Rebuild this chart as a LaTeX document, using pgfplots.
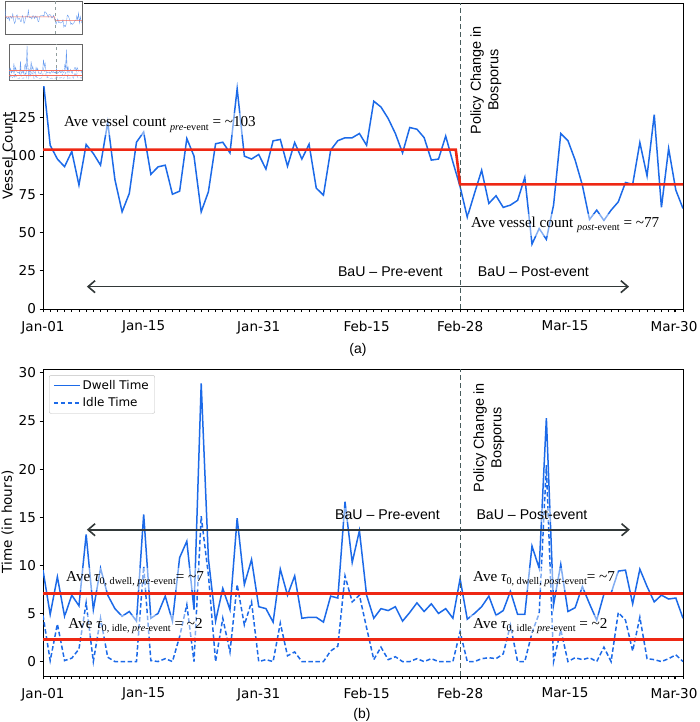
\documentclass[border=0pt]{standalone}
\usepackage{fontspec}
\setmainfont{DejaVu Sans}
\newfontfamily\annfont{Liberation Sans}
\newfontfamily\timesfont{Liberation Serif}
\usepackage{pgfplots}
\usepackage{pgfplotstable}
\pgfplotsset{compat=1.18}
\usetikzlibrary{arrows.meta}

\definecolor{lineblue}{RGB}{28,106,232}
\definecolor{avgred}{RGB}{238,40,20}
\definecolor{eventgray}{RGB}{72,92,92}
\definecolor{arrowgray}{RGB}{50,56,56}

% daily series, day 0 = Jan-01
\pgfplotstableread{
day vessel dwell idle
0 151 9.5 4.8
1 107 4.9 0.1
2 98 8.8 3.9
3 93 4.7 0.1
4 103 6.9 0.35
5 81 5.8 1.3
6 107.5 13.2 6.1
7 101.6 5.4 0
8 94 9.7 4.5
9 122 6.9 0.45
10 84.6 5.5 0
11 63.5 4.7 0
12 75.5 5.2 0
13 109 4.2 0
14 115.7 15.3 9.9
15 88 4.5 0.1
16 92.9 5.0 0
17 94 6.8 0.3
18 75 4.2 0
19 77 10.8 2.6
20 111.4 12.5 5.9
21 99.9 5.4 0
22 63.5 28.9 15.1
23 76.6 10.7 9.0
24 108 4.2 0
25 109 7.6 4.5
26 102 5.4 1.0
27 144 14.9 8.0
28 99.9 8.0 3.8
29 98 10.6 6.2
30 101 5.7 0
31 91.4 5.5 0.2
32 109.9 4.1 0
33 110.8 9.6 4.0
34 93.3 6.9 0.6
35 108.8 8.9 1.0
36 98 4.5 0
37 107.7 4.6 0
38 79 4.6 0
39 74.4 4.1 0
40 103.8 6.8 1.1
41 110 6.6 1.6
42 111.9 16.6 8.9
43 111.9 10.3 6.2
44 114.7 13.6 6.9
45 107 6.9 3.5
46 135.8 4.5 0.2
47 132 5.5 1.5
48 124.5 5.3 0.2
49 114.7 5.7 0.5
50 102 4.2 0
51 118.6 5.1 0
52 117.5 6.1 0.3
53 112 5.2 0
54 97.3 6.0 0.3
55 98 5.0 0
56 113 5.5 0
57 96 4.5 0
58 80 8.6 3.1
59 60 4.4 0
60 75.5 5.0 0
61 90.7 5.7 0.3
62 69 6.8 0.4
63 74 4.8 0.3
64 66.4 5.3 0.8
65 67.9 7.3 3.8
66 71 4.9 0
67 86 4.9 0
68 42.4 12.0 3.0
69 52.6 9.7 5.0
70 45.5 25.3 20.4
71 67.9 5.9 0
72 114.7 10.1 3.3
73 110 5.2 0
74 97.3 5.6 0.4
75 81 7.8 0.2
76 58.5 6.0 0.4
77 64.6 4.3 0
78 57.9 7.0 1.5
79 64.6 7.1 0
80 70 9.4 5.1
81 82.7 9.5 4.3
82 81.4 6.0 1.1
83 108.8 9.6 4.6
84 87 7.8 0.3
85 127 6.2 0.2
86 66.4 6.9 0
87 104.9 6.5 0.3
88 77.7 6.6 0.7
89 65.7 4.5 0
}\traffic

\pgfplotsset{
  panel/.style={
    scale only axis, width=640bp,
    xmin=0, xmax=89,
    axis line style={black, line width=0.8bp},
    tick style={black, line width=0.8bp},
    tick align=outside, xtick pos=bottom, ytick pos=left,
    major tick length=3.5bp, minor tick length=3bp,
    xtick={0,14,30,45,58,72.6,87.75},
    xticklabels={Jan-01,Jan-15,Jan-31,Feb-15,Feb-28,Mar-15,Mar-30},
    minor xtick={0,1,...,89},
    ticklabel style={font=\fontsize{13.6}{16}\selectfont},
    xticklabel style={yshift=-5bp},
    /pgf/number format/assume math mode=true,
    clip=true,
  },
}
\tikzset{
  boxnote/.style={fill=white, fill opacity=0.45, text opacity=1, inner xsep=3bp, inner ysep=3bp},
  ave/.style={boxnote, anchor=base west, font=\timesfont\fontsize{15.2}{17}\selectfont},
  bau/.style={boxnote, font=\annfont\fontsize{14.2}{16}\selectfont, inner sep=2bp},
  policy/.style={rotate=90, align=center, font=\annfont\fontsize{14.5}{17.5}\selectfont},
  span/.style={arrowgray, line width=1.6bp, {Straight Barb[length=7bp,width=12bp]}-{Straight Barb[length=7bp,width=12bp]}},
}
\newcommand{\sub}[1]{\raisebox{-0.45ex}{\fontsize{10.2}{12}\selectfont #1}}

\begin{document}
\begin{tikzpicture}[x=1bp,y=1bp]
\path[use as bounding box] (0,0) rectangle (700,722);

% (a) vessel counts
\begin{axis}[panel, at={(43bp,413bp)}, anchor=south west, height=306bp,
  ymin=0, ymax=200, ytick={0,25,...,125}]
\addplot[lineblue, line width=1.5bp] table[x=day, y=vessel] {\traffic};
\addplot[eventgray, line width=1.1bp, dash pattern=on 5bp off 3bp] coordinates {(58,0) (58,200)};
\addplot[avgred, line width=2.6bp] coordinates {(0,104.2) (57.4,104.2) (58,81.4) (89,81.4)};
\node[ave, xshift=-3bp] at (axis cs:2.9,119) {Ave vessel count \sub{\textit{pre}-event} = \textasciitilde103};
\node[ave, xshift=-3bp] at (axis cs:59.5,53.1) {Ave vessel count \sub{\textit{post}-event} = \textasciitilde77};
\draw[span] (axis cs:6.1,14.6) -- (axis cs:81.5,14.6);
\node[bau] at (axis cs:48.3,24.4) {BaU – Pre-event};
\node[bau] at (axis cs:68.2,24.4) {BaU – Post-event};
\node[policy] at (axis cs:61.6,149.5) {Policy Change in\\Bosporus};
\end{axis}

% (b) dwell and idle times
\begin{axis}[panel, at={(43bp,46bp)}, anchor=south west, height=307bp,
  ymin=-1.5, ymax=30.4, ytick={0,5,...,30},
  legend style={at={(0.0094,0.98)}, anchor=north west, draw=black!25, rounded corners=2bp,
    fill=white, fill opacity=0.8, text opacity=1,
    font=\fontsize{12}{14}\selectfont, row sep=3bp, inner xsep=4bp, inner ysep=3bp},
  legend cell align=left,
  legend image code/.code={\draw[#1] (0bp,0bp) -- (26bp,0bp);}]
\addplot[lineblue, line width=1.5bp] table[x=day, y=dwell] {\traffic};
\addlegendentry{Dwell Time}
\addplot[lineblue, line width=1.5bp, dash pattern=on 4.5bp off 2.5bp] table[x=day, y=idle] {\traffic};
\addlegendentry{Idle Time}
\addplot[eventgray, line width=1.1bp, dash pattern=on 5bp off 3bp, forget plot] coordinates {(58,-1.5) (58,30.4)};
\addplot[avgred, line width=2.6bp, forget plot] coordinates {(0,7.1) (89,7.1)};
\addplot[avgred, line width=2.6bp, forget plot] coordinates {(0,2.3) (89,2.3)};
\node[ave, xshift=-3bp] at (axis cs:3.2,8.32) {Ave {\itshape τ}\sub{0, dwell, \textit{pre}-event}= \textasciitilde7};
\node[ave, xshift=-3bp] at (axis cs:3.5,3.47) {Ave {\itshape τ}\sub{0, idle, \textit{pre}-event} = \textasciitilde2};
\node[ave, xshift=-3bp] at (axis cs:59.8,8.32) {Ave {\itshape τ}\sub{0, dwell, \textit{post}-event}= \textasciitilde7};
\node[ave, xshift=-3bp] at (axis cs:59.8,3.47) {Ave {\itshape τ}\sub{0, idle, \textit{pre}-event} = \textasciitilde2};
\draw[span] (axis cs:6.1,13.7) -- (axis cs:81.6,13.7);
\node[bau] at (axis cs:47.9,15.25) {BaU – Pre-event};
\node[bau] at (axis cs:68,15.25) {BaU – Post-event};
\node[policy] at (axis cs:62,23.25) {Policy Change in\\Bosporus};
\end{axis}

% axis titles and panel captions
\node[rotate=90, font=\fontsize{13.6}{16}\selectfont] at (7.5,566) {Vessel Count};
\node[rotate=90, font=\fontsize{13.6}{16}\selectfont] at (7.5,200) {Time (in hours)};
\node[font=\annfont\fontsize{14}{16}\selectfont] at (358,372) {(a)};
\node[font=\annfont\fontsize{14}{16}\selectfont] at (362,7) {(b)};

% miniature of the whole figure in the top-left corner
\fill[white] (0,636) rectangle (84,722);
\begin{axis}[scale only axis, at={(5bp,688bp)}, anchor=south west, width=77bp, height=33bp,
  xmin=0, xmax=89, ymin=0, ymax=200, ticks=none, axis line style={black!60, line width=0.3bp}]
\addplot[lineblue!70, line width=0.35bp] table[x=day, y=vessel] {\traffic};
\addplot[avgred!70, line width=0.5bp] coordinates {(0,104.2) (57.4,104.2) (58,81.4) (89,81.4)};
\addplot[eventgray!60, line width=0.25bp, dashed] coordinates {(58,0) (58,200)};
\end{axis}
\begin{axis}[scale only axis, at={(9bp,642bp)}, anchor=south west, width=73bp, height=36bp,
  xmin=0, xmax=89, ymin=-1.5, ymax=30.4, ticks=none, axis line style={black!60, line width=0.3bp}]
\addplot[lineblue!70, line width=0.35bp] table[x=day, y=dwell] {\traffic};
\addplot[lineblue!70, line width=0.3bp, densely dashed] table[x=day, y=idle] {\traffic};
\addplot[avgred!70, line width=0.5bp] coordinates {(0,7.1) (89,7.1)};
\addplot[avgred!70, line width=0.5bp] coordinates {(0,2.3) (89,2.3)};
\addplot[eventgray!60, line width=0.25bp, dashed] coordinates {(58,-1.5) (58,30.4)};
\end{axis}
\end{tikzpicture}
\end{document}
